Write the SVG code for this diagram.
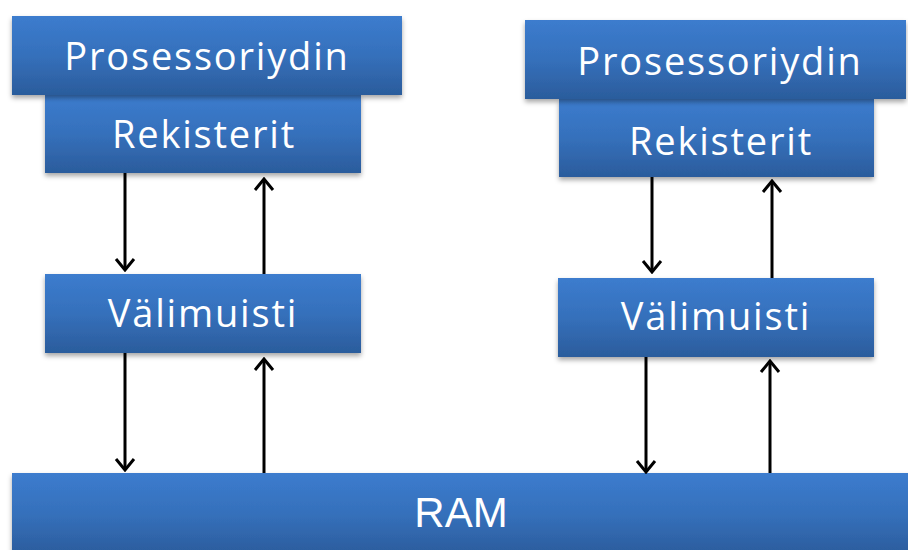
<svg xmlns="http://www.w3.org/2000/svg" width="908" height="550" viewBox="0 0 908 550">
  <defs>
    <linearGradient id="boxFill" x1="0" y1="0" x2="0" y2="1">
      <stop offset="0" stop-color="#3c7cce"/>
      <stop offset="0.5" stop-color="#3570bb"/>
      <stop offset="1" stop-color="#2b5c9c"/>
    </linearGradient>
    <filter id="shadow" x="-5%" y="-10%" width="110%" height="130%">
      <feDropShadow dx="0" dy="3" stdDeviation="2.5" flood-color="#000" flood-opacity="0.35"/>
    </filter>
    <marker id="head" markerUnits="userSpaceOnUse" viewBox="-16 -12 18 24" refX="0" refY="0" markerWidth="18" markerHeight="24" orient="auto">
      <path d="M-11,-9 L0,0 L-11,9" fill="none" stroke="#000" stroke-width="3" stroke-linejoin="miter"/>
    </marker>
  </defs>
  <style>
    .box { fill: url(#boxFill); filter: url(#shadow); }
    .label { fill: #ffffff; font-family: "Open Sans", Lato, "Liberation Sans", sans-serif; font-size: 38px; letter-spacing: 1.8px; text-anchor: middle; }
    .ram { font-family: "Liberation Sans", Arial, sans-serif; font-size: 42px; letter-spacing: 0; }
    .link { stroke: #000; stroke-width: 3; fill: none; marker-end: url(#head); }
  </style>

  <rect width="908" height="550" fill="#ffffff"/>

  <!-- left core -->
  <g id="rekisterit-1">
    <rect class="box" x="45" y="95" width="316" height="78"/>
    <text class="label" x="204" y="148">Rekisterit</text>
  </g>
  <g id="prosessoriydin-1">
    <rect class="box" x="12" y="16" width="390" height="79"/>
    <text class="label" x="207" y="70">Prosessoriydin</text>
  </g>
  <g id="valimuisti-1">
    <rect class="box" x="45" y="274" width="316" height="79"/>
    <text class="label" x="203" y="327">Välimuisti</text>
  </g>

  <!-- right core -->
  <g id="rekisterit-2">
    <rect class="box" x="559" y="99" width="315" height="78"/>
    <text class="label" x="721" y="155">Rekisterit</text>
  </g>
  <g id="prosessoriydin-2">
    <rect class="box" x="525" y="20" width="381" height="79"/>
    <text class="label" x="720" y="75">Prosessoriydin</text>
  </g>
  <g id="valimuisti-2">
    <rect class="box" x="558" y="278" width="316" height="79"/>
    <text class="label" x="716" y="330">Välimuisti</text>
  </g>

  <!-- shared memory -->
  <g id="ram">
    <rect class="box" x="12" y="473" width="900" height="82"/>
    <text class="label ram" x="461" y="527">RAM</text>
  </g>

  <!-- data paths -->
  <g id="connectors">
    <line class="link" x1="125" y1="173" x2="125" y2="270"/>
    <line class="link" x1="264" y1="274" x2="264" y2="179"/>
    <line class="link" x1="125" y1="353" x2="125" y2="470"/>
    <line class="link" x1="264" y1="473" x2="264" y2="359"/>
    <line class="link" x1="652" y1="177" x2="652" y2="272"/>
    <line class="link" x1="772" y1="278" x2="772" y2="181"/>
    <line class="link" x1="646" y1="357" x2="646" y2="472"/>
    <line class="link" x1="770" y1="473" x2="770" y2="361"/>
  </g>
</svg>
